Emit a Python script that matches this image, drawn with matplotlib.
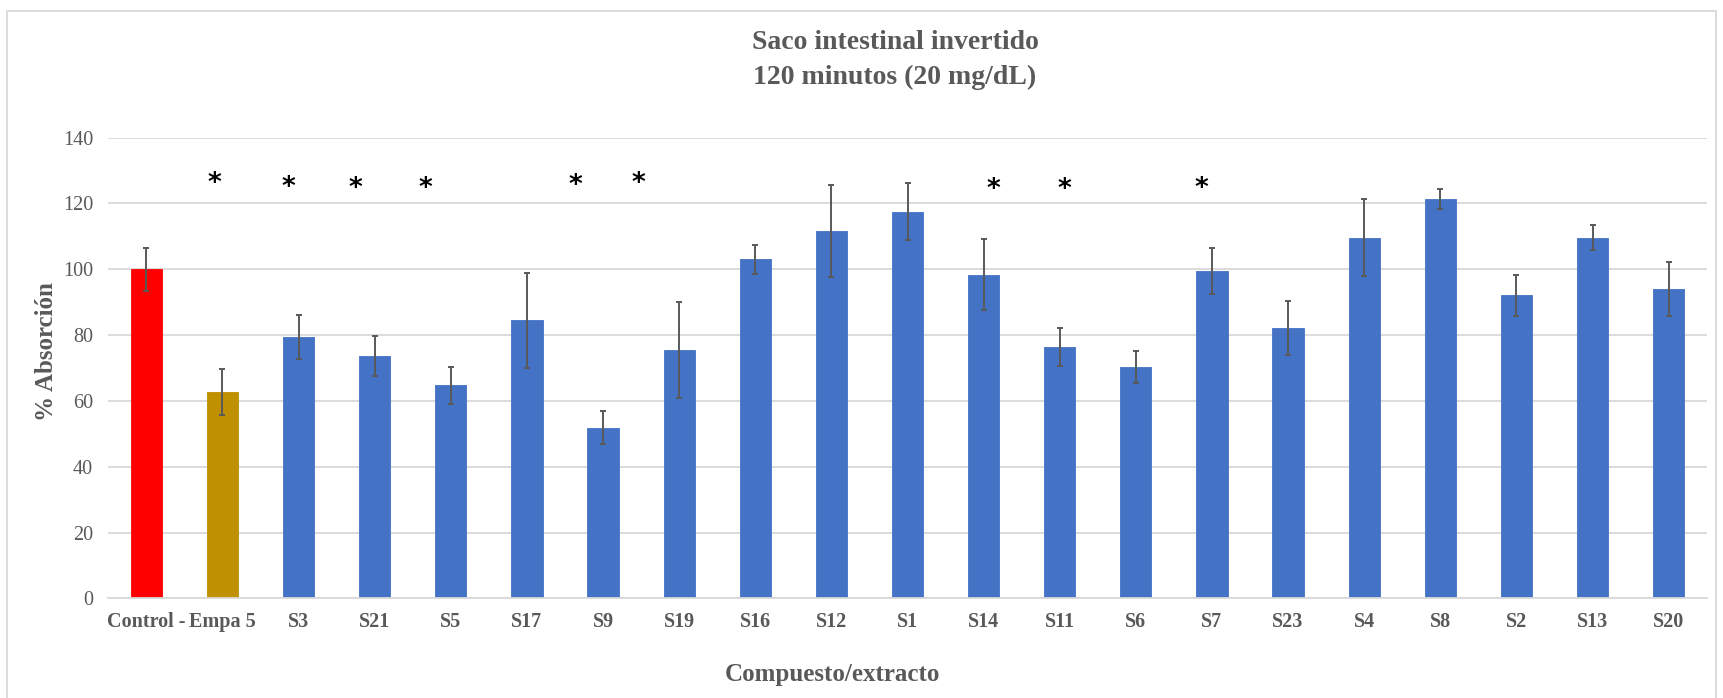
import matplotlib
matplotlib.use("Agg")
import matplotlib.pyplot as plt
from matplotlib.patches import Rectangle
import numpy as np

# % absorción a 120 min, con su desviación
compuestos = ["Control -", "Empa 5", "S3", "S21", "S5", "S17", "S9", "S19", "S16", "S12",
              "S1", "S14", "S11", "S6", "S7", "S23", "S4", "S8", "S2", "S13", "S20"]
absorcion = [100.0, 62.6, 79.4, 73.6, 64.8, 84.5, 51.9, 75.5, 103.0, 111.7,
             117.5, 98.3, 76.5, 70.3, 99.4, 82.2, 109.6, 121.3, 92.1, 109.6, 93.9]
desv = [6.6, 7.0, 6.7, 6.1, 5.6, 14.5, 5.0, 14.7, 4.4, 14.0,
        8.7, 10.8, 5.8, 5.0, 7.0, 8.1, 11.7, 3.1, 6.2, 3.8, 8.2]

# diferencias significativas (*) frente al control
signif = ["Empa 5", "S3", "S21", "S5", "S9", "S19", "S14", "S11", "S7"]
signif_dx = [-0.10, -0.14, -0.26, -0.33, -0.36, -0.54, 0.13, 0.06, -0.14]
signif_y = [126.8, 125.6, 125.3, 125.3, 126.1, 126.8, 125.1, 125.1, 125.3]

INK = "#595959"; GRID = "#d9d9d9"
RED = "#ff0000"; GOLD = "#bf9000"; BLUE = "#4472c4"
SERIF = ["Liberation Serif", "DejaVu Serif"]

plt.rcParams.update({"font.family": SERIF, "text.color": INK})

fig = plt.figure(figsize=(17.24, 6.98), dpi=100)
fig.patches.append(Rectangle((7 / 1724, -0.05), 1709 / 1724, 1.05 - 11 / 698,
                             transform=fig.transFigure, fill=False,
                             edgecolor=GRID, lw=1.3))
ax = fig.add_axes([108.3 / 1724, 99.7 / 698, 1598.4 / 1724, 460.6 / 698])

x = np.arange(len(compuestos))
colores = [RED, GOLD] + [BLUE] * (len(compuestos) - 2)
ax.bar(x, absorcion, width=0.41, color=colores, edgecolor=colores, lw=0.6, zorder=2)
ax.errorbar(x, absorcion, yerr=desv, fmt="none", ecolor=INK, elinewidth=1.4,
            capsize=2.2, capthick=1.4, zorder=3)

for nombre, dx, y in zip(signif, signif_dx, signif_y):
    i = compuestos.index(nombre)
    ax.text(i + dx, y, "*", ha="center", va="center_baseline", fontsize=19,
            fontweight="bold", color="black", family="DejaVu Sans")

ax.set_xlim(-0.5, len(compuestos) - 0.5)
ax.set_ylim(0, 140)
ax.set_yticks(np.arange(0, 141, 20))
ax.yaxis.grid(True, color=GRID, lw=1.3, zorder=0)
ax.set_axisbelow(True)
for s in ("top", "right", "left"):
    ax.spines[s].set_visible(False)
ax.spines["bottom"].set_color(GRID)
ax.spines["bottom"].set_linewidth(1.3)
ax.tick_params(length=0, colors=INK, labelsize=14.5)
ax.tick_params(axis="y", pad=11)
ax.tick_params(axis="x", pad=10)
ax.set_xticks(x)
ax.set_xticklabels(compuestos, fontweight="bold", fontsize=14.5)

fig.text(895 / 1724, 1 - 42.7 / 698, "Saco intestinal invertido", ha="center",
         va="center", fontsize=20, fontweight="bold", color=INK)
fig.text(895 / 1724, 1 - 77.3 / 698, "120 minutos (20 mg/dL)", ha="center",
         va="center", fontsize=20, fontweight="bold", color=INK)
fig.text(832 / 1724, 1 - 675 / 698, "Compuesto/extracto", ha="center", va="center",
         fontsize=18, fontweight="bold", color=INK)
fig.text(47 / 1724, 1 - 352 / 698, "% Absorción", ha="center", va="center",
         rotation=90, fontsize=18, fontweight="bold", color=INK)

fig.savefig("out.png", dpi=100, facecolor="white")
